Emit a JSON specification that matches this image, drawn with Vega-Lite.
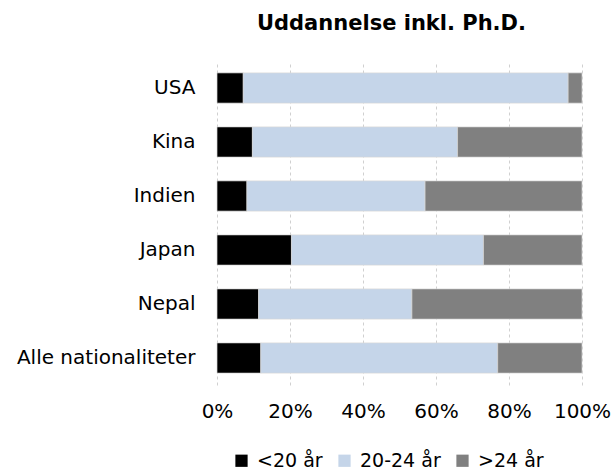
{
  "$schema": "https://vega.github.io/schema/vega-lite/v6.json",
  "autosize": "none",
  "width": 365,
  "height": 324,
  "padding": {"left": 217, "top": 61, "right": 29, "bottom": 88},
  "background": "white",
  "title": {
    "text": "Uddannelse inkl. Ph.D.",
    "font": "DejaVu Sans",
    "fontSize": 21,
    "fontWeight": "bold",
    "color": "#000000",
    "anchor": "middle",
    "dx": -8,
    "offset": 27
  },
  "data": {
    "values": [
      {"land": "USA", "gruppe": "<20 år", "o": 1, "v": 7.2},
      {"land": "USA", "gruppe": "20-24 år", "o": 2, "v": 89.0},
      {"land": "USA", "gruppe": ">24 år", "o": 3, "v": 3.8},
      {"land": "Kina", "gruppe": "<20 år", "o": 1, "v": 9.7},
      {"land": "Kina", "gruppe": "20-24 år", "o": 2, "v": 56.2},
      {"land": "Kina", "gruppe": ">24 år", "o": 3, "v": 34.1},
      {"land": "Indien", "gruppe": "<20 år", "o": 1, "v": 8.2},
      {"land": "Indien", "gruppe": "20-24 år", "o": 2, "v": 48.8},
      {"land": "Indien", "gruppe": ">24 år", "o": 3, "v": 43.0},
      {"land": "Japan", "gruppe": "<20 år", "o": 1, "v": 20.4},
      {"land": "Japan", "gruppe": "20-24 år", "o": 2, "v": 52.6},
      {"land": "Japan", "gruppe": ">24 år", "o": 3, "v": 27.0},
      {"land": "Nepal", "gruppe": "<20 år", "o": 1, "v": 11.4},
      {"land": "Nepal", "gruppe": "20-24 år", "o": 2, "v": 42.0},
      {"land": "Nepal", "gruppe": ">24 år", "o": 3, "v": 46.6},
      {"land": "Alle nationaliteter", "gruppe": "<20 år", "o": 1, "v": 12.0},
      {"land": "Alle nationaliteter", "gruppe": "20-24 år", "o": 2, "v": 64.9},
      {"land": "Alle nationaliteter", "gruppe": ">24 år", "o": 3, "v": 23.1}
    ]
  },
  "mark": {"type": "bar", "stroke": "#d9d9d9", "strokeWidth": 0.7},
  "encoding": {
    "y": {
      "field": "land",
      "type": "nominal",
      "sort": ["USA", "Kina", "Indien", "Japan", "Nepal", "Alle nationaliteter"],
      "scale": {"paddingInner": 0.44, "paddingOuter": 0.22},
      "axis": {
        "title": null,
        "ticks": false,
        "domain": false,
        "labelFont": "DejaVu Sans",
        "labelFontSize": 20,
        "labelLimit": 260,
        "labelColor": "#000000",
        "labelPadding": 22
      }
    },
    "x": {
      "field": "v",
      "type": "quantitative",
      "stack": "normalize",
      "scale": {"domain": [0, 1]},
      "axis": {
        "title": null,
        "format": ".0%",
        "values": [0, 0.2, 0.4, 0.6, 0.8, 1],
        "labelOverlap": false,
        "labelFlush": false,
        "ticks": false,
        "domain": false,
        "grid": true,
        "gridDash": [3, 3],
        "gridColor": "#d0d0d0",
        "labelFont": "DejaVu Sans",
        "labelFontSize": 20,
        "labelColor": "#000000",
        "labelPadding": 16
      }
    },
    "order": {"field": "o", "type": "quantitative"},
    "color": {
      "field": "gruppe",
      "type": "nominal",
      "sort": ["<20 år", "20-24 år", ">24 år"],
      "scale": {
        "domain": ["<20 år", "20-24 år", ">24 år"],
        "range": ["#000000", "#c5d5e9", "#808080"]
      },
      "legend": {
        "title": null,
        "orient": "none",
        "legendX": 15,
        "legendY": 390,
        "direction": "horizontal",
        "symbolType": "square",
        "symbolSize": 150,
        "symbolStrokeWidth": 0,
        "labelFont": "DejaVu Sans",
        "labelFontSize": 19,
        "labelColor": "#000000",
        "labelOffset": 6,
        "columnPadding": 12
      }
    }
  },
  "config": {"view": {"stroke": null}}
}
